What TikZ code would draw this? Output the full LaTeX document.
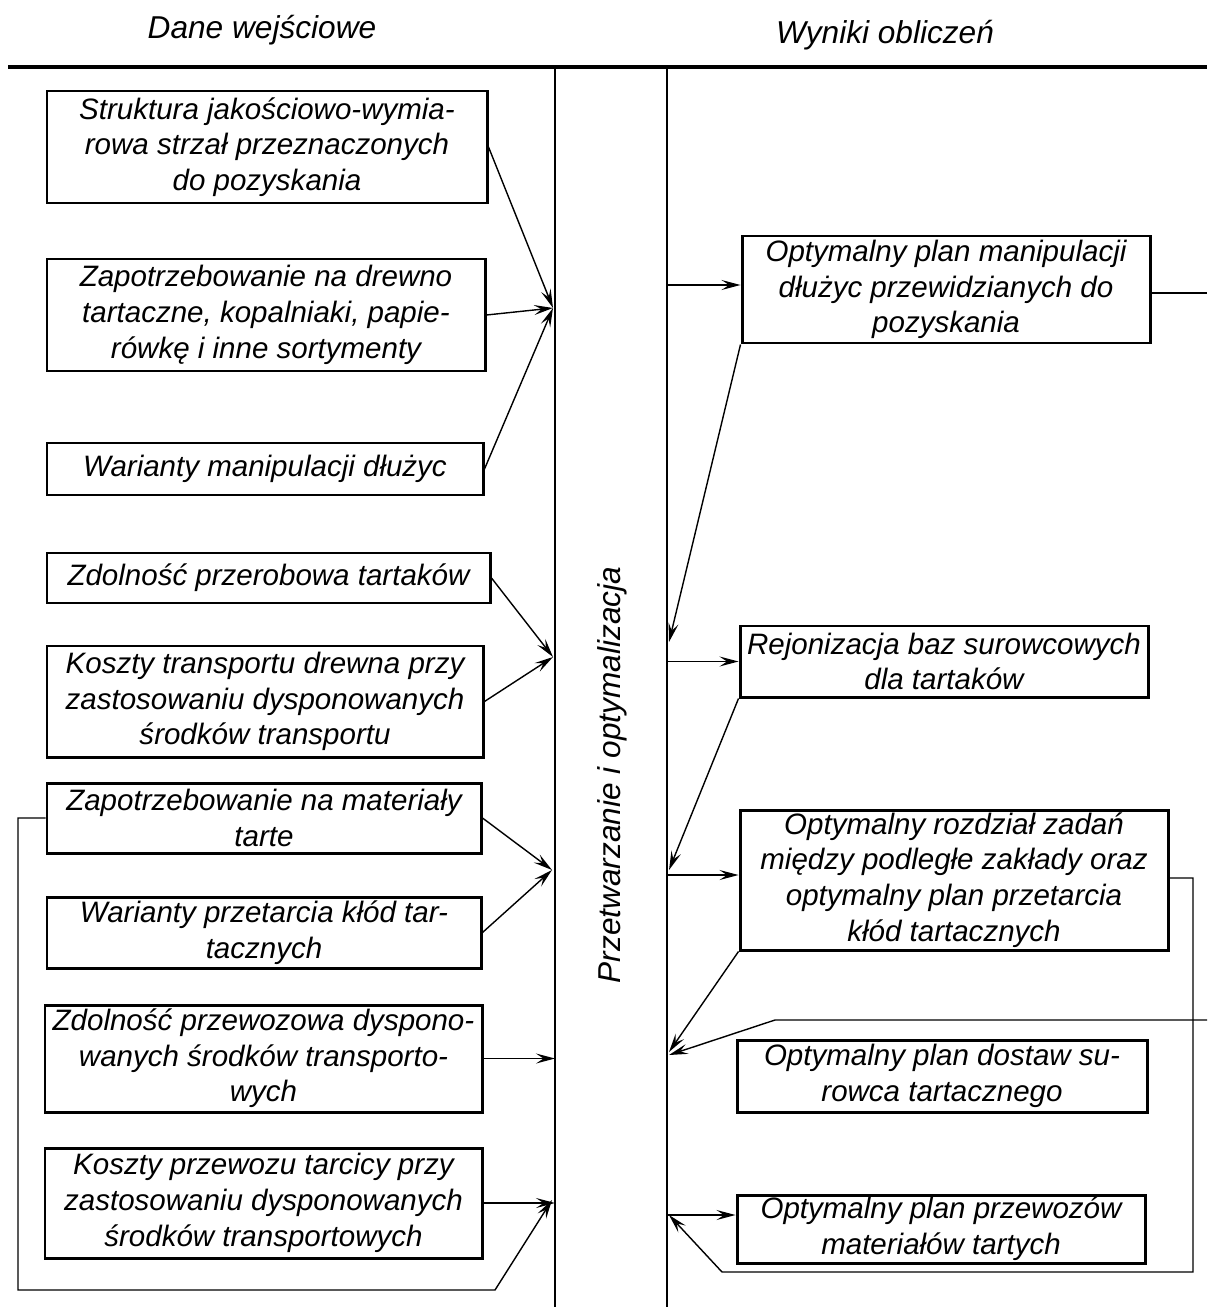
\documentclass[tikz,border=0pt]{standalone}
\usepackage{fontspec}
\setmainfont{Liberation Sans}
\usetikzlibrary{arrows.meta}
\tikzset{
  x=0.02cm, y=-0.02cm,
  txt/.style={font=\fontsize{16.8}{20.3}\selectfont\itshape},
  hdr/.style={font=\fontsize{18}{21}\selectfont\itshape},
  box/.style={draw, line width=1.7pt, inner sep=0pt, align=center, txt},
  conn/.style={line width=0.8pt},
  arr/.style={conn, -{Stealth[length=3.8mm,width=2mm,inset=1.5mm]}},
  mainline/.style={line width=1.4pt},
}
\begin{document}
\begin{tikzpicture}
\useasboundingbox (0,0) rectangle (1207,1307);
% headers
\node[hdr] (h1) at (262,30) {Dane wejściowe};
\node[hdr] (h2) at (885,35) {Wyniki obliczeń};
% frame lines
\coordinate (tl) at (8,67);
\coordinate (tr) at (1207,67);
\coordinate (vl1) at (555,67);
\coordinate (vl2) at (555,1307);
\coordinate (vr1) at (667,67);
\coordinate (vr2) at (667,1307);
\draw[line width=2.2pt] (tl) -- (tr);
\draw[mainline] (vl1) -- (vl2);
\draw[mainline] (vr1) -- (vr2);
\node[hdr, rotate=90] (proc) at (612,775) {Przetwarzanie i optymalizacja};
% left boxes
\node[box, minimum width=440*0.02cm, minimum height=112*0.02cm] (L1) at (267,147)
  {Struktura jakościowo-wymia-\\rowa strzał przeznaczonych\\do pozyskania};
\node[box, minimum width=438*0.02cm, minimum height=112*0.02cm] (L2) at (266,315)
  {Zapotrzebowanie na drewno\\tartaczne, kopalniaki, papie-\\rówkę i inne sortymenty};
\node[box, minimum width=436*0.02cm, minimum height=52*0.02cm] (L3) at (265,469)
  {Warianty manipulacji dłużyc};
\node[box, minimum width=443*0.02cm, minimum height=50*0.02cm] (L4) at (268.5,578)
  {Zdolność przerobowa tartaków};
\node[box, minimum width=436*0.02cm, minimum height=111*0.02cm] (L5) at (265,701.5)
  {Koszty transportu drewna przy\\zastosowaniu dysponowanych\\środków transportu};
\node[box, minimum width=434*0.02cm, minimum height=70*0.02cm] (L6) at (264,818)
  {Zapotrzebowanie na materiały\\tarte};
\node[box, minimum width=434*0.02cm, minimum height=71*0.02cm] (L7) at (264,932.5)
  {Warianty przetarcia kłód tar-\\tacznych};
\node[box, minimum width=437*0.02cm, minimum height=107*0.02cm] (L8) at (263.5,1058.5)
  {Zdolność przewozowa dyspono-\\wanych środków transporto-\\wych};
\node[box, minimum width=437*0.02cm, minimum height=110*0.02cm] (L9) at (263.5,1203)
  {Koszty przewozu tarcicy przy\\zastosowaniu dysponowanych\\środków transportowych};
% right boxes
\node[box, minimum width=408*0.02cm, minimum height=107*0.02cm] (R1) at (946,289.5)
  {Optymalny plan manipulacji\\dłużyc przewidzianych do\\pozyskania};
\node[box, minimum width=408*0.02cm, minimum height=71*0.02cm] (R2) at (944,661.5)
  {Rejonizacja baz surowcowych\\dla tartaków};
\node[box, minimum width=428*0.02cm, minimum height=140*0.02cm] (R3) at (954,880)
  {Optymalny rozdział zadań\\między podległe zakłady oraz\\optymalny plan przetarcia\\kłód tartacznych};
\node[box, minimum width=410*0.02cm, minimum height=72*0.02cm] (R4) at (942,1076)
  {Optymalny plan dostaw su-\\rowca tartacznego};
\node[box, minimum width=408*0.02cm, minimum height=68*0.02cm] (R5) at (941,1229)
  {Optymalny plan przewozów\\materiałów tartych};
% left convergence points
\coordinate (c1) at (553,308);
\coordinate (c2) at (553,657);
\coordinate (c3) at (552,870);
\draw[arr] (L1.east) -- (c1);
\draw[arr] (L2.east) -- (c1);
\draw[arr] (L3.east) -- (c1);
\draw[arr] (L4.east) -- (c2);
\draw[arr] (L5.east) -- (c2);
\draw[arr] (L6.east) -- (c3);
\draw[arr] (L7.east) -- (c3);
\draw[arr] (L8.east) -- (L8.east -| vl1);
\draw[arr] (L9.east) -- (L9.east -| vl1);
% left feedback loop
\coordinate (f1) at (18,818);
\coordinate (f2) at (18,1290);
\coordinate (f3) at (495,1290);
\coordinate (f4) at (552,1200);
\draw[arr] (L6.west) -- (f1) -- (f2) -- (f3) -- (f4);
% right side
\coordinate (r1in) at (667,285);
\draw[arr] (r1in) -- (r1in -| R1.west);
\coordinate (r1out) at (1207,293);
\draw[conn] (R1.east |- r1out) -- (r1out);
\coordinate (d1) at (669,642);
\draw[arr] (R1.south west) -- (d1);
\draw[arr] (R2.west -| vr1) -- (R2.west);
\coordinate (d2) at (669,870);
\draw[arr] (R2.south west) -- (d2);
\coordinate (r3in) at (667,875);
\draw[arr] (r3in) -- (r3in -| R3.west);
\coordinate (d3) at (669,1052);
\draw[arr] (R3.south west) -- (d3);
\coordinate (e1) at (1207,1020);
\coordinate (e2) at (775,1020);
\coordinate (e3) at (669,1055);
\draw[arr] (e1) -- (e2) -- (e3);
\coordinate (g1) at (1193,878);
\coordinate (g2) at (1193,1272);
\coordinate (g3) at (722,1272);
\coordinate (g4) at (669,1215);
\draw[arr] (R3.east |- g1) -- (g1) -- (g2) -- (g3) -- (g4);
\coordinate (r5in) at (667,1215);
\draw[arr] (r5in) -- (r5in -| R5.west);
\end{tikzpicture}
\end{document}
